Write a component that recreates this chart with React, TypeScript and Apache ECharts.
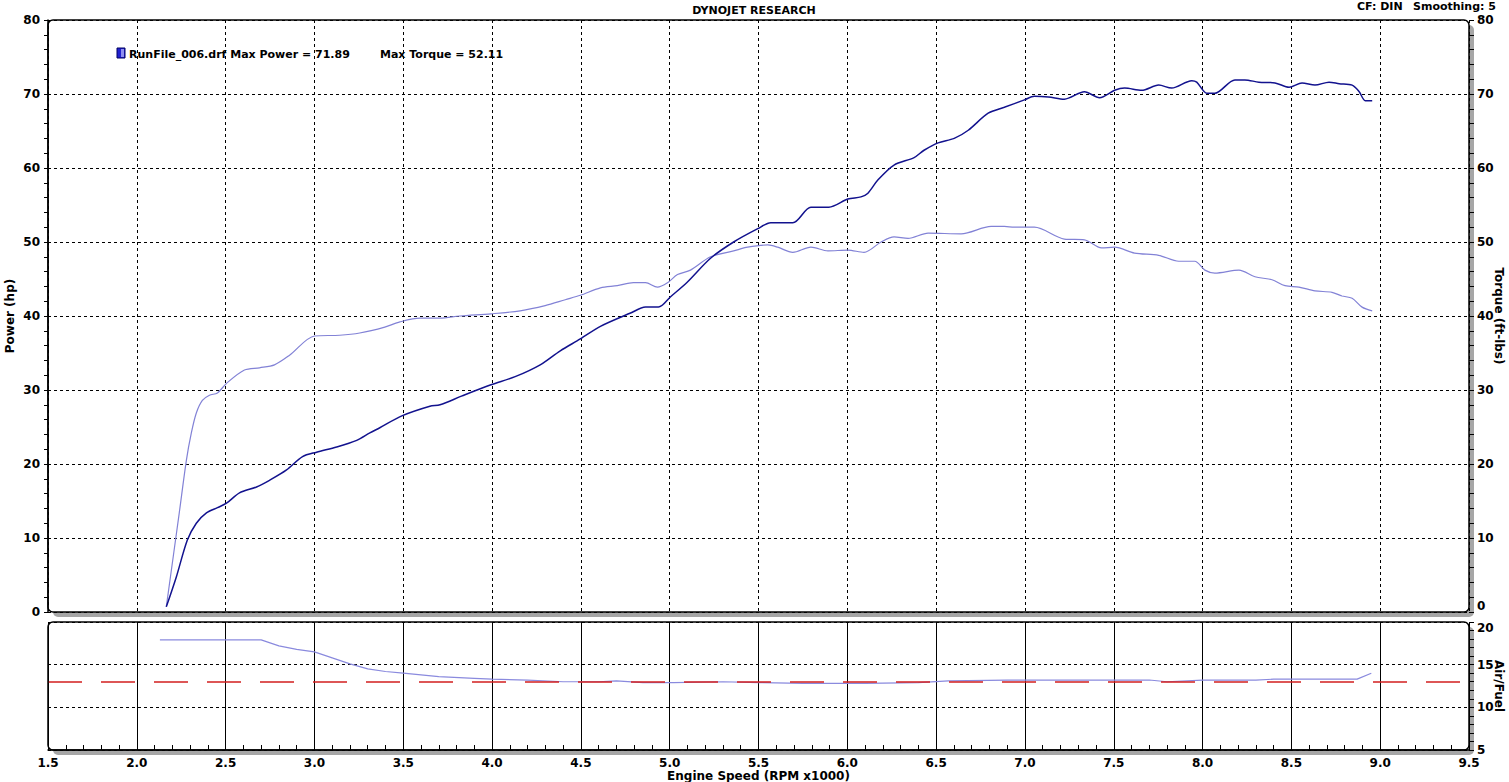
import React, { useEffect, useRef } from "react";
import * as echarts from "echarts";

const rpmTicks = ["1.5", "2.0", "2.5", "3.0", "3.5", "4.0", "4.5", "5.0", "5.5", "6.0", "6.5", "7.0", "7.5", "8.0", "8.5", "9.0", "9.5"];

const powerRpm = [2.166, 2.222, 2.284, 2.335, 2.392, 2.454, 2.505, 2.578, 2.674, 2.747, 2.843, 2.933, 3.012, 3.125, 3.238, 3.312, 3.368, 3.492, 3.65, 3.707, 3.831, 3.994, 4.13, 4.271, 4.384, 4.497, 4.61, 4.78, 4.864, 4.937, 5.005, 5.1, 5.23, 5.36, 5.496, 5.569, 5.693, 5.795, 5.896, 6.003, 6.077, 6.116, 6.173, 6.263, 6.376, 6.432, 6.511, 6.602, 6.681, 6.793, 6.884, 6.997, 7.053, 7.132, 7.222, 7.335, 7.42, 7.505, 7.561, 7.657, 7.753, 7.826, 7.939, 7.967, 8.024, 8.069, 8.182, 8.238, 8.317, 8.408, 8.487, 8.56, 8.633, 8.712, 8.769, 8.842, 8.882, 8.916, 8.955];
const powerHp = [0.7, 4.7, 9.7, 12.0, 13.4, 14.1, 14.7, 16.1, 16.9, 17.8, 19.2, 21.0, 21.6, 22.3, 23.2, 24.2, 24.9, 26.5, 27.8, 28.0, 29.2, 30.7, 31.8, 33.4, 35.3, 36.9, 38.6, 40.4, 41.2, 41.2, 42.6, 44.6, 47.8, 50.0, 51.8, 52.6, 52.6, 54.7, 54.7, 55.8, 56.1, 56.6, 58.4, 60.4, 61.4, 62.4, 63.4, 64.0, 65.1, 67.4, 68.2, 69.2, 69.7, 69.6, 69.3, 70.3, 69.5, 70.5, 70.8, 70.5, 71.2, 70.8, 71.8, 71.6, 70.1, 70.1, 71.9, 71.9, 71.6, 71.5, 70.9, 71.5, 71.2, 71.6, 71.4, 71.2, 70.3, 69.1, 69.1];

const torqueRpm = [2.166, 2.239, 2.279, 2.307, 2.335, 2.369, 2.409, 2.454, 2.505, 2.606, 2.691, 2.775, 2.86, 3.001, 3.142, 3.255, 3.396, 3.481, 3.594, 3.707, 3.819, 3.994, 4.158, 4.299, 4.412, 4.497, 4.61, 4.705, 4.796, 4.864, 4.931, 4.988, 5.044, 5.117, 5.23, 5.36, 5.439, 5.552, 5.608, 5.693, 5.795, 5.891, 6.003, 6.094, 6.19, 6.263, 6.342, 6.455, 6.641, 6.81, 6.884, 6.94, 7.053, 7.222, 7.335, 7.431, 7.505, 7.617, 7.753, 7.866, 7.956, 8.013, 8.069, 8.205, 8.295, 8.391, 8.464, 8.543, 8.633, 8.729, 8.785, 8.842, 8.898, 8.955];
const torqueFtLb = [0.7, 13.4, 20.5, 24.2, 26.9, 28.6, 29.3, 29.6, 30.9, 32.7, 33.0, 33.4, 34.7, 37.3, 37.4, 37.7, 38.5, 39.2, 39.7, 39.7, 40.0, 40.3, 40.7, 41.4, 42.2, 42.8, 43.8, 44.1, 44.5, 44.5, 43.9, 44.5, 45.6, 46.2, 48.0, 48.8, 49.3, 49.6, 49.3, 48.6, 49.3, 48.8, 48.9, 48.6, 50.0, 50.7, 50.5, 51.2, 51.1, 52.1, 52.1, 52.0, 52.0, 50.4, 50.3, 49.2, 49.3, 48.5, 48.2, 47.4, 47.4, 46.2, 45.8, 46.2, 45.3, 44.9, 44.1, 43.9, 43.4, 43.2, 42.7, 42.4, 41.2, 40.7];

const afrRpm = [2.13, 2.7, 2.8, 2.9, 3.0, 3.1, 3.2, 3.3, 3.4, 3.5, 3.7, 3.9, 4.0, 4.2, 4.4, 4.6, 4.7, 4.85, 5.02, 5.3, 5.5, 5.75, 6.1, 6.4, 6.57, 6.9, 7.1, 7.7, 7.8, 8.0, 8.3, 8.4, 8.87, 8.95];
const afrRatio = [17.9, 17.9, 17.2, 16.8, 16.5, 15.8, 15.1, 14.5, 14.2, 14.0, 13.6, 13.4, 13.3, 13.2, 13.0, 13.0, 13.1, 12.9, 12.9, 13.0, 12.9, 12.8, 12.8, 12.9, 13.1, 13.2, 13.2, 13.2, 13.0, 13.2, 13.2, 13.3, 13.3, 14.0];
const afrTarget = 13.0;

const maxPower = 71.89;
const maxTorque = 52.11;

// ---- layout ----
const W = 1509;
const H = 782;
const LEFT = 48;
const RIGHT_EDGE = 1469;
const TOP1 = 20;
const H1 = 592;
const TOP2 = 622;
const H2 = 128;
const FONT = "DejaVu Sans";

const pairs = (xs: number[], ys: number[]) => xs.map((x, i) => [x, ys[i]]);

export default function App() {
  const ref = useRef<HTMLDivElement>(null);
  useEffect(() => {
    if (!ref.current) return;
    const chart = echarts.init(ref.current, null, { renderer: "svg" });
    const gw = RIGHT_EDGE - LEFT;
    const labelStyle = { color: "#000", fontFamily: FONT, fontWeight: "bold" as const, fontSize: 12 };
    const frame = (top: number, h: number) => [
      { type: "rect", z: -20, silent: true, shape: { x: LEFT + 5, y: top + 5, width: gw, height: h, r: 5 }, style: { fill: "#a6a6a6" } },
      { type: "rect", z: -19, silent: true, shape: { x: LEFT, y: top, width: gw, height: h, r: 5 }, style: { fill: "#fff" } },
      { type: "rect", z: 50, silent: true, shape: { x: LEFT, y: top, width: gw, height: h, r: 5 }, style: { fill: "none", stroke: "#000", lineWidth: 1.5 } },
    ];
    const txt = (x: number, y: number, text: string, align: string, rotation = 0, size = 11) => ({
      type: "text", x, y, rotation, silent: true,
      style: { text, fill: "#000", font: `bold ${size}px "${FONT}"`, align, verticalAlign: "middle" },
    });
    const option: any = {
      animation: false,
      backgroundColor: "#fff",
      textStyle: { fontFamily: FONT },
      grid: [
        { left: LEFT, top: TOP1, width: gw, height: H1, containLabel: false, outerBoundsMode: "none" },
        { left: LEFT, top: TOP2, width: gw, height: H2, containLabel: false, outerBoundsMode: "none" },
      ],
      xAxis: [
        {
          gridIndex: 0, type: "value", min: 1.5, max: 9.5, interval: 0.5,
          axisLine: { show: false }, axisTick: { show: false }, axisLabel: { show: false },
          splitLine: { show: true, lineStyle: { color: "#000", type: [3, 3], width: 1 } },
        },
        {
          gridIndex: 1, type: "value", min: 1.5, max: 9.5, interval: 0.5,
          name: "Engine Speed (RPM x1000)", nameLocation: "middle", nameGap: 18,
          nameTextStyle: { ...labelStyle, fontSize: 12 },
          axisLine: { show: true, lineStyle: { color: "#000", width: 1.5 } },
          axisTick: { show: true, inside: true, length: 5, lineStyle: { color: "#000" } },
          minorTick: { show: true, splitNumber: 5, length: 5, lineStyle: { color: "#000" } },
          axisLabel: { ...labelStyle, margin: 7, formatter: (v: number) => rpmTicks[Math.round((v - 1.5) / 0.5)] ?? "" },
          splitLine: { show: true, lineStyle: { color: "#000", type: "solid", width: 1 } },
        },
      ],
      yAxis: [
        {
          gridIndex: 0, type: "value", min: 0, max: 80, interval: 10, position: "left",
          axisLine: { show: true, lineStyle: { color: "#000", width: 1.5 } },
          axisTick: { show: true, length: 4, lineStyle: { color: "#000" } },
          minorTick: { show: true, splitNumber: 5, length: 4, lineStyle: { color: "#000" } },
          axisLabel: { ...labelStyle, margin: 8 },
          splitLine: { show: true, lineStyle: { color: "#000", type: [3, 3], width: 1 } },
        },
        {
          gridIndex: 0, type: "value", min: 0, max: 80, interval: 10, position: "right",
          axisLine: { show: false },
          axisTick: { show: true, length: 5, lineStyle: { color: "#000" } },
          minorTick: { show: true, splitNumber: 5, length: 5, lineStyle: { color: "#000" } },
          axisLabel: { ...labelStyle, margin: 8, verticalAlignMinLabel: "bottom" },
          splitLine: { show: false },
        },
        {
          gridIndex: 1, type: "value", min: 5, max: 20, interval: 5, position: "right",
          axisLine: { show: false },
          axisTick: { show: true, length: 5, lineStyle: { color: "#000" } },
          minorTick: { show: true, splitNumber: 5, length: 5, lineStyle: { color: "#000" } },
          axisLabel: { ...labelStyle, margin: 8, verticalAlignMaxLabel: "top" },
          splitLine: { show: true, lineStyle: { color: "#000", type: [3, 3], width: 1 } },
        },
      ],
      series: [
        {
          name: "Torque", type: "line", xAxisIndex: 0, yAxisIndex: 1,
          data: pairs(torqueRpm, torqueFtLb), showSymbol: false, smooth: 0.3,
          lineStyle: { color: "#8282d6", width: 1.2 },
        },
        {
          name: "Power", type: "line", xAxisIndex: 0, yAxisIndex: 0,
          data: pairs(powerRpm, powerHp), showSymbol: false, smooth: 0.3,
          lineStyle: { color: "#12128e", width: 1.5 },
        },
        {
          name: "AFR", type: "line", xAxisIndex: 1, yAxisIndex: 2,
          data: pairs(afrRpm, afrRatio), showSymbol: false,
          lineStyle: { color: "#8a8ade", width: 1.2 },
          markLine: {
            silent: true, symbol: "none", label: { show: false },
            lineStyle: { color: "#d21f1f", type: [34, 19], width: 1.5 },
            data: [{ yAxis: afrTarget }],
          },
        },
      ],
      graphic: [
        ...frame(TOP1, H1),
        ...frame(TOP2, H2),
        txt(754, 10, "DYNOJET RESEARCH", "center"),
        txt(1357, 6, "CF: DIN", "left"),
        txt(1413, 6, "Smoothing: 5", "left"),
        txt(10, 316, "Power (hp)", "center", Math.PI / 2, 12),
        txt(1499, 316, "Torque (ft-lbs)", "center", -Math.PI / 2, 12),
        txt(1499, 686, "Air/Fuel", "center", -Math.PI / 2, 12),
        { type: "rect", silent: true, shape: { x: 117, y: 48, width: 8, height: 10 }, style: { fill: "#2020d0", stroke: "#000060", lineWidth: 1 } },
        { type: "rect", silent: true, shape: { x: 121, y: 49, width: 3, height: 8 }, style: { fill: "#8f8ff0" } },
        txt(129, 54, `RunFile_006.drf Max Power = ${maxPower.toFixed(2)}`, "left"),
        txt(380, 54, `Max Torque = ${maxTorque.toFixed(2)}`, "left"),
      ],
    };
    chart.setOption(option);
    return () => chart.dispose();
  }, []);
  return <div ref={ref} style={{ position: "fixed", left: 0, top: 0, width: W, height: H, background: "#fff" }} />;
}
